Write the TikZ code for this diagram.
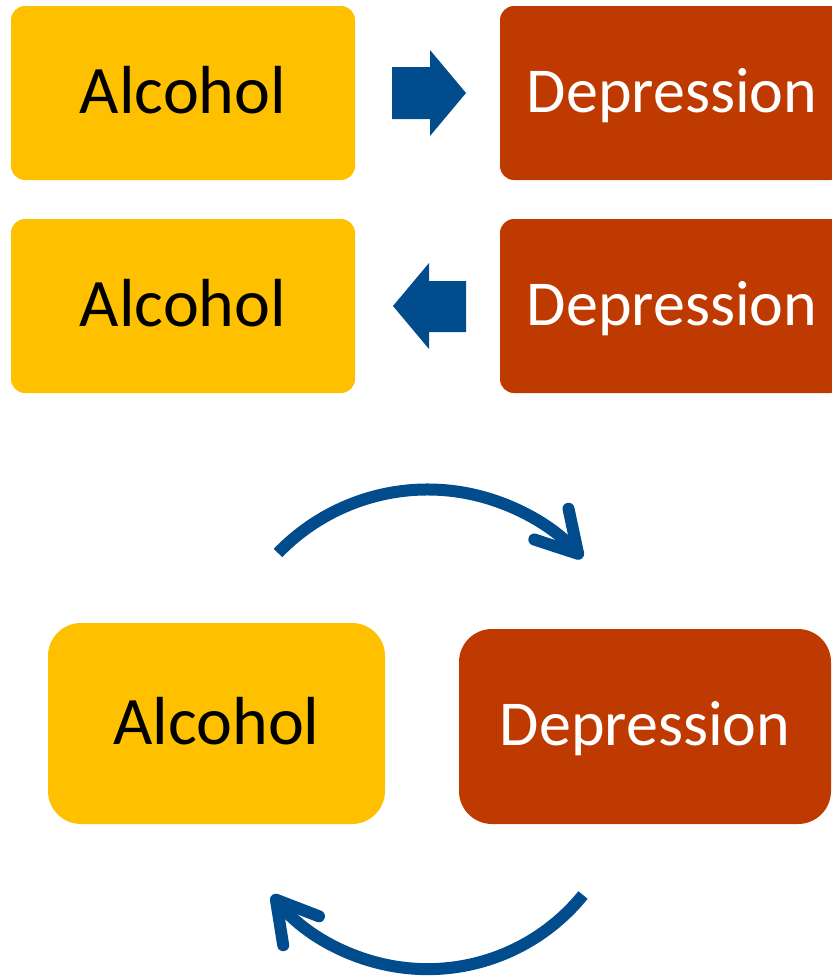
\documentclass[tikz,border=0pt]{standalone}
\usepackage{fontspec}
\setmainfont{Carlito}
\usetikzlibrary{arrows.meta}
\definecolor{ayellow}{RGB}{255,192,0}
\definecolor{dred}{RGB}{190,58,0}
\definecolor{ablue}{RGB}{0,76,140}
\begin{document}
\begin{tikzpicture}[x=1pt,y=-1pt,
  box/.style={rectangle, inner sep=0pt, text depth=0pt},
  alc/.style={box, fill=ayellow, text=black, text height=41pt,
    font=\fontsize{68}{80}\selectfont},
  dep/.style={box, fill=dred, text=white, text height=38pt,
    font=\fontsize{64}{77}\selectfont},
  blockarrow/.style={fill=ablue, draw=none},
  cyc/.style={draw=ablue, line width=12pt,
    -{Straight Barb[length=40pt, width=46pt, round]}}
]
\useasboundingbox (0,0) rectangle (832,977);
% top rows
\node[alc, minimum width=344pt, minimum height=174pt, rounded corners=14pt] (a1) at (183,93) {Alcohol};
\node[dep, minimum width=344pt, minimum height=174pt, rounded corners=14pt] (d1) at (672,93) {Depression};
\node[alc, minimum width=344pt, minimum height=174pt, rounded corners=14pt] (a2) at (183,306) {Alcohol};
\node[dep, minimum width=344pt, minimum height=174pt, rounded corners=14pt] (d2) at (672,306) {Depression};
% block arrows
\fill[blockarrow] (392,67) -- (430,67) -- (430,50) -- (466,93) -- (430,136) -- (430,119) -- (392,119) -- cycle;
\fill[blockarrow] (466,281) -- (429,281) -- (429,263) -- (393,306) -- (429,349) -- (429,332) -- (466,332) -- cycle;
% cycle
\node[alc, minimum width=337pt, minimum height=201pt, rounded corners=33pt] (a3) at (216.5,723.5) {Alcohol};
\node[dep, minimum width=372pt, minimum height=195pt, rounded corners=33pt] (d3) at (645,726.5) {Depression};
\coordinate (t1) at (278,553);
\coordinate (b1) at (583,895);
\draw[cyc] (t1) arc[start angle=-136, end angle=-42, radius=208];
\draw[cyc] (b1) arc[start angle=39, end angle=141, radius=200];
\end{tikzpicture}
\end{document}
